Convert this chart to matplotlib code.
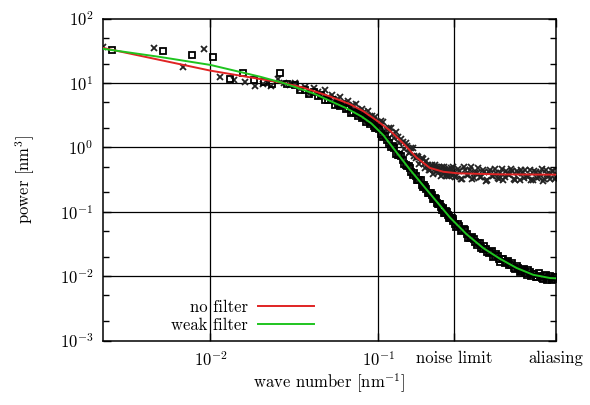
import matplotlib
matplotlib.use("Agg")
import matplotlib.pyplot as plt
from matplotlib.ticker import LogLocator, NullFormatter, FixedLocator, FixedFormatter

plt.rcParams['font.family'] = ['serif']
plt.rcParams['font.serif'] = ['cmr10', 'DejaVu Serif']
plt.rcParams['mathtext.fontset'] = 'cm'
plt.rcParams['axes.unicode_minus'] = False
plt.rcParams['axes.formatter.use_mathtext'] = True

# ---------------- data: no filter (x markers) ----------------
k_nofilter = [
    0.00229, 0.00458, 0.00687, 0.00916, 0.01145, 0.01374, 0.01603, 0.01832, 0.02061, 0.0229, 0.0252, 0.0275, 0.0298,
    0.0321, 0.0344, 0.0366, 0.0389, 0.0412, 0.0435, 0.0458, 0.0481, 0.0504, 0.0527, 0.0550, 0.0573, 0.0596, 0.0618,
    0.0641, 0.0664, 0.0687, 0.0710, 0.0733, 0.0756, 0.0779, 0.0802, 0.0825, 0.0847, 0.0870, 0.0893, 0.0916, 0.0939,
    0.0962, 0.0985,
    0.101, 0.107, 0.113, 0.119, 0.125, 0.131, 0.137, 0.143, 0.149, 0.155, 0.161, 0.167, 0.173, 0.179, 0.185, 0.191,
    0.197, 0.203, 0.209, 0.215, 0.221, 0.227, 0.233, 0.239, 0.245, 0.251, 0.257, 0.263, 0.269, 0.275,
    0.104, 0.110, 0.116, 0.122, 0.128, 0.134, 0.140, 0.146, 0.152, 0.158, 0.164, 0.170, 0.176, 0.182, 0.188, 0.194,
    0.200, 0.206, 0.212, 0.218, 0.224, 0.230, 0.236, 0.242, 0.248, 0.254, 0.260, 0.266, 0.272, 0.278,
    0.281, 0.293, 0.305, 0.317, 0.330, 0.344, 0.358, 0.373, 0.388, 0.404, 0.421, 0.438, 0.456, 0.475, 0.494, 0.515,
    0.536, 0.558, 0.581, 0.605, 0.630, 0.656, 0.683, 0.711, 0.740, 0.771, 0.802, 0.835, 0.870, 0.905, 0.943, 0.981,
    1.022, 1.064, 1.107, 1.145,
    0.287, 0.299, 0.311, 0.323, 0.337, 0.351, 0.365, 0.380, 0.396, 0.412, 0.429, 0.447, 0.465, 0.484, 0.504, 0.525,
    0.547, 0.569, 0.593, 0.617, 0.643, 0.669, 0.697, 0.725, 0.755, 0.786, 0.818, 0.852, 0.887, 0.924, 0.962, 1.001,
    1.043, 1.085, 1.126,
]
p_nofilter = [
    35.7, 34.4, 17.8, 33.6, 12.2, 11.0, 10.5, 9.06, 9.5, 9.0, 11.4, 10.0, 9.3,
    10.13, 8.09, 8.67, 6.84, 8.20, 7.14, 6.22, 7.70, 6.00, 6.46, 5.14, 5.66, 6.11, 4.79,
    4.83, 5.24, 4.00, 4.60, 4.71, 3.85, 3.52, 3.98, 3.55, 3.02, 3.71, 3.01, 3.08, 2.63,
    2.96, 2.46,
    2.24, 2.46, 1.88, 2.02, 1.39, 1.44, 1.35, 0.958, 1.03, 0.849, 0.964, 0.676, 0.711, 0.604, 0.649, 0.472,
    0.533, 0.447, 0.538, 0.438, 0.493, 0.393, 0.442, 0.498, 0.380, 0.444, 0.358, 0.458, 0.388, 0.443,
    2.60, 1.81, 1.99, 1.59, 1.73, 1.16, 1.19, 1.15, 0.816, 0.992, 0.728, 0.734, 0.557, 0.671, 0.547, 0.617,
    0.451, 0.508, 0.386, 0.522, 0.426, 0.490, 0.364, 0.430, 0.499, 0.367, 0.440, 0.354, 0.476, 0.376,
    0.493, 0.354, 0.431, 0.324, 0.444, 0.375, 0.491, 0.330, 0.395, 0.350, 0.450, 0.303, 0.418, 0.355, 0.466, 0.329,
    0.395, 0.314, 0.433, 0.367, 0.422, 0.306, 0.403, 0.452, 0.335, 0.359, 0.442, 0.313, 0.412, 0.350, 0.461, 0.327,
    0.384, 0.319, 0.421, 0.342,
    0.347, 0.453, 0.318, 0.488, 0.368, 0.449, 0.324, 0.405, 0.485, 0.341, 0.419, 0.310, 0.447, 0.362, 0.405, 0.322,
    0.453, 0.344, 0.385, 0.462, 0.327, 0.422, 0.306, 0.394, 0.442, 0.351, 0.313, 0.432, 0.334, 0.402, 0.298, 0.451,
    0.358, 0.431, 0.327,
]

# ---------------- data: weak filter (square markers) ----------------
k_weak = [
    0.0026, 0.0052, 0.0078, 0.0104, 0.0130, 0.0156, 0.0182, 0.0208, 0.0234, 0.0260, 0.0286,
    0.0321, 0.0344, 0.0366, 0.0389, 0.0412, 0.0435, 0.0458, 0.0481, 0.0504, 0.0527, 0.0550, 0.0573, 0.0596, 0.0618,
    0.0641, 0.0664, 0.0687, 0.0710, 0.0733, 0.0756, 0.0779, 0.0802, 0.0825, 0.0847, 0.0870, 0.0893, 0.0916, 0.0939,
    0.0962, 0.0985,
    0.101, 0.107, 0.113, 0.119, 0.125, 0.131, 0.137, 0.143, 0.149, 0.155, 0.161, 0.167, 0.173, 0.179, 0.185, 0.191,
    0.197, 0.203, 0.209, 0.215, 0.221, 0.227, 0.233, 0.239, 0.245, 0.251, 0.257, 0.263, 0.269, 0.275,
    0.104, 0.110, 0.116, 0.122, 0.128, 0.134, 0.140, 0.146, 0.152, 0.158, 0.164, 0.170, 0.176, 0.182, 0.188, 0.194,
    0.200, 0.206, 0.212, 0.218, 0.224, 0.230, 0.236, 0.242, 0.248, 0.254, 0.260, 0.266, 0.272, 0.278,
    0.281, 0.293, 0.305, 0.317, 0.330, 0.344, 0.358, 0.373, 0.388, 0.404, 0.421, 0.438, 0.456, 0.475, 0.494, 0.515,
    0.536, 0.558, 0.581, 0.605, 0.630, 0.656, 0.683, 0.711, 0.740, 0.771, 0.802, 0.835, 0.870, 0.905, 0.943, 0.981,
    1.022, 1.064, 1.107, 1.145,
    0.287, 0.299, 0.311, 0.323, 0.337, 0.351, 0.365, 0.380, 0.396, 0.412, 0.429, 0.447, 0.465, 0.484, 0.504, 0.525,
    0.547, 0.569, 0.593, 0.617, 0.643, 0.669, 0.697, 0.725, 0.755, 0.786, 0.818, 0.852, 0.887, 0.924, 0.962, 1.001,
    1.043, 1.085, 1.126,
]
p_weak = [
    32.4, 31.3, 27.1, 25.0, 11.5, 14.4, 11.0, 10.4, 9.6, 14.1, 9.5,
    9.19, 7.69, 7.80, 6.74, 7.16, 6.28, 6.49, 5.45, 5.41, 5.37, 4.56, 4.77, 4.35, 4.57,
    3.90, 4.07, 3.46, 3.54, 3.46, 3.09, 3.32, 2.90, 2.95, 2.51, 2.62, 2.33, 2.49, 2.18,
    2.00, 2.02,
    1.93, 1.47, 1.32, 1.02, 0.963, 0.769, 0.727, 0.560, 0.511, 0.469, 0.370, 0.363, 0.311, 0.306, 0.245, 0.244,
    0.198, 0.193, 0.181, 0.155, 0.159, 0.133, 0.132, 0.108, 0.109, 0.0950, 0.0992, 0.0861, 0.0786, 0.0795,
    1.59, 1.51, 1.16, 1.05, 0.794, 0.747, 0.630, 0.522, 0.512, 0.412, 0.393, 0.313, 0.308, 0.259, 0.263, 0.222,
    0.197, 0.194, 0.158, 0.166, 0.136, 0.134, 0.118, 0.116, 0.0961, 0.103, 0.0892, 0.0795, 0.0799, 0.0721,
    0.0770, 0.0586, 0.0606, 0.0511, 0.0516, 0.0397, 0.0391, 0.0375, 0.0300, 0.0323, 0.0264, 0.0264, 0.0225, 0.0247,
    0.0206, 0.0206, 0.0168, 0.0187, 0.0164, 0.0148, 0.0160, 0.0128, 0.0134, 0.0122, 0.0129, 0.0105, 0.0115, 0.0106,
    0.00961, 0.0111, 0.00944, 0.00992, 0.00867, 0.0100, 0.00908, 0.00968,
    0.0634, 0.0639, 0.0502, 0.0532, 0.0448, 0.0390, 0.0410, 0.0335, 0.0330, 0.0269, 0.0293, 0.0238, 0.0238, 0.0199,
    0.0219, 0.0186, 0.0187, 0.0158, 0.0174, 0.0150, 0.0135, 0.0144, 0.0117, 0.0125, 0.0114, 0.0123, 0.0101, 0.0109,
    0.00974, 0.0102, 0.00893, 0.0103, 0.00942, 0.00869, 0.00971,
]

# ---------------- fitted curves ----------------
k_fit_red = [0.00228, 0.005, 0.01, 0.0197, 0.027, 0.0355, 0.0515, 0.0678, 0.0815, 0.0892, 0.100, 0.1175,
             0.141, 0.1694, 0.2032, 0.2443, 0.300, 0.532, 1.156]
p_fit_red = [35.0, 22.7, 15.5, 11.5, 10.0, 8.51, 6.17, 4.68, 3.63, 3.09, 2.51, 1.82,
             1.15, 0.692, 0.479, 0.417, 0.394, 0.380, 0.376]

k_fit_green = [0.00228, 0.005, 0.01, 0.0197, 0.027, 0.0409, 0.0647, 0.0794, 0.0912, 0.1072, 0.1288, 0.1545,
               0.1858, 0.2228, 0.2679, 0.3365, 0.4236, 0.532, 0.670, 0.841, 1.059, 1.156]
p_fit_green = [33.9, 25.3, 19.0, 12.5, 10.0, 6.90, 4.04, 3.02, 2.34, 1.55, 0.832, 0.452,
               0.254, 0.1445, 0.0813, 0.0447, 0.0272, 0.0186, 0.01334, 0.01047, 0.00933, 0.00923]

xtick_pos = [0.01, 0.1, 0.283, 1.149]
xtick_labels = ['$10^{-2}$', '$10^{-1}$', 'noise limit', 'aliasing']
legend_labels = ['no filter', 'weak filter']

fig = plt.figure(figsize=(5.9, 4.05), dpi=100)
ax = fig.add_axes([103 / 590, 1 - 340.5 / 405, (556 - 103) / 590, (340.5 - 18.5) / 405])
ax.set_xscale('log')
ax.set_yscale('log')
ax.set_xlim(0.002286, 1.149)
ax.set_ylim(1e-3, 1e2)

# grid lines
for xv in xtick_pos[:3]:
    ax.axvline(xv, color='black', lw=0.9, zorder=1)
for yv in [1e1, 1e0, 1e-1, 1e-2]:
    ax.axhline(yv, color='black', lw=0.9, zorder=1)

ax.plot(k_nofilter, p_nofilter, linestyle='none', marker='x', ms=5.0, mew=1.3,
        color='#222222', zorder=2)
ax.plot(k_weak, p_weak, linestyle='none', marker='s', ms=4.6, mew=1.3,
        markerfacecolor='none', markeredgecolor='black', zorder=3)
l1, = ax.plot(k_fit_red, p_fit_red, color='#e02424', lw=1.4, zorder=4, label=legend_labels[0])
l2, = ax.plot(k_fit_green, p_fit_green, color='#1fc41f', lw=1.4, zorder=5, label=legend_labels[1])

ax.xaxis.set_major_locator(FixedLocator(xtick_pos))
ax.xaxis.set_major_formatter(FixedFormatter(xtick_labels))
ax.xaxis.set_minor_locator(FixedLocator([]))
ax.yaxis.set_major_locator(LogLocator(base=10, numticks=10))
ax.yaxis.set_minor_locator(LogLocator(base=10, subs=[2.0, 5.0], numticks=10))
ax.yaxis.set_minor_formatter(NullFormatter())

ax.tick_params(axis='both', which='both', direction='in', top=True, right=True, labelsize=12, width=1.0)
ax.tick_params(axis='both', which='major', length=6, pad=7)
ax.tick_params(axis='both', which='minor', length=4)
for s in ax.spines.values():
    s.set_linewidth(1.1)

ax.set_xlabel('wave number [nm$^{-1}$]', fontsize=12, labelpad=2)
ax.set_ylabel('power [nm$^3$]', fontsize=12, labelpad=16)

leg = ax.legend(handles=[l1, l2], loc='lower left', bbox_to_anchor=(0.124, -0.012), frameon=False,
                markerfirst=False, fontsize=12, handlelength=3.4, handletextpad=0.6,
                labelspacing=0.15, borderaxespad=0.3)
for t in leg.get_texts():
    t.set_ha('right')

fig.savefig('out.png', dpi=100)
